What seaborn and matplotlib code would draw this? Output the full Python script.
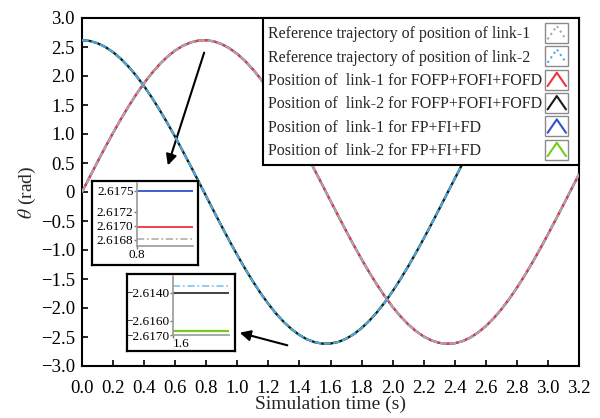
import matplotlib
matplotlib.use("Agg")
import matplotlib.pyplot as plt
import seaborn as sns
from matplotlib.lines import Line2D
from matplotlib.patches import Rectangle
from matplotlib.legend_handler import HandlerBase

# ---------------- data ----------------
t = [0.00, 0.05, 0.10, 0.15, 0.20, 0.25, 0.30, 0.35, 0.40, 0.45,
     0.50, 0.55, 0.60, 0.65, 0.70, 0.75, 0.80, 0.85, 0.90, 0.95,
     1.00, 1.05, 1.10, 1.15, 1.20, 1.25, 1.30, 1.35, 1.40, 1.45,
     1.50, 1.55, 1.60, 1.65, 1.70, 1.75, 1.80, 1.85, 1.90, 1.95,
     2.00, 2.05, 2.10, 2.15, 2.20, 2.25, 2.30, 2.35, 2.40, 2.45,
     2.50, 2.55, 2.60, 2.65, 2.70, 2.75, 2.80, 2.85, 2.90, 2.95,
     3.00, 3.05, 3.10, 3.15, 3.20]

link1 = [0.000, 0.261, 0.520, 0.774, 1.019, 1.255, 1.478, 1.686, 1.878, 2.050,
         2.203, 2.333, 2.440, 2.522, 2.579, 2.611, 2.617, 2.596, 2.549, 2.477,
         2.380, 2.259, 2.116, 1.952, 1.768, 1.567, 1.349, 1.119, 0.877, 0.626,
         0.369, 0.109, -0.153, -0.413, -0.669, -0.918, -1.158, -1.387, -1.602, -1.800,
         -1.981, -2.142, -2.281, -2.398, -2.491, -2.559, -2.601, -2.617, -2.608, -2.572,
         -2.510, -2.423, -2.313, -2.179, -2.023, -1.847, -1.652, -1.441, -1.216, -0.979,
         -0.731, -0.477, -0.218, 0.044, 0.305]

link2 = [2.617, 2.604, 2.565, 2.501, 2.411, 2.297, 2.160, 2.002, 1.824, 1.627,
         1.414, 1.187, 0.949, 0.700, 0.445, 0.185, -0.076, -0.337, -0.595, -0.846,
         -1.089, -1.321, -1.540, -1.744, -1.930, -2.097, -2.243, -2.366, -2.466, -2.542,
         -2.591, -2.615, -2.613, -2.585, -2.531, -2.451, -2.347, -2.220, -2.070, -1.900,
         -1.711, -1.505, -1.283, -1.049, -0.804, -0.552, -0.294, -0.032, 0.229, 0.488,
         0.743, 0.989, 1.226, 1.451, 1.661, 1.855, 2.030, 2.185, 2.318, 2.428,
         2.513, 2.574, 2.608, 2.617, 2.608]

# zoomed values at t = 0.8 (link-1) and t = 1.6 (link-2)
inset1_t = [0.8, 0.81]
inset1_fp = 2.61750
inset1_fofp = 2.61699
inset1_ref = 2.61682
inset2_t = [1.6, 1.61]
inset2_ref = -2.61350
inset2_fofp = -2.61400
inset2_fp = -2.61671

labels = ["Reference trajectory of position of link-1",
          "Reference trajectory of position of link-2",
          "Position of  link-1 for FOFP+FOFI+FOFD",
          "Position of  link-2 for FOFP+FOFI+FOFD",
          "Position of  link-1 for FP+FI+FD",
          "Position of  link-2 for FP+FI+FD"]

x_ticks = [0.0, 0.2, 0.4, 0.6, 0.8, 1.0, 1.2, 1.4, 1.6, 1.8, 2.0, 2.2, 2.4, 2.6, 2.8, 3.0, 3.2]
y_ticks = [3.0, 2.5, 2.0, 1.5, 1.0, 0.5, 0.0, -0.5, -1.0, -1.5, -2.0, -2.5, -3.0]
y_ticklabels = ["3.0", "2.5", "2.0", "1.5", "1.0", "0.5", "0", "\u22120.5", "\u22121.0",
                "\u22121.5", "\u22122.0", "\u22122.5", "\u22123.0"]
in1_yticks = [2.6175, 2.6172, 2.6170, 2.6168]
in1_ylabels = ["2.6175", "2.6172", "2.6170", "2.6168"]
in2_yticks = [-2.6140, -2.6160, -2.6170]
in2_ylabels = ["\u22122.6140", "\u22122.6160", "\u22122.6170"]

# ---------------- style ----------------
sns.set_style("ticks")
plt.rcParams["font.family"] = ["Liberation Serif", "DejaVu Serif"]
plt.rcParams["mathtext.fontset"] = "stix"

C_REF1 = "#a8a8a8"
C_REF2 = "#4ea6e6"
C_RED = "#f0323c"
C_BLACK = "#1a1a1a"
C_BLUE = "#3450c8"
C_GREEN = "#72cc1c"
DASH = (0, (3.0, 1.2))

W, H = 600, 418
fig = plt.figure(figsize=(W / 100, H / 100), dpi=100)


def px_axes(l, top, r, bottom, **kw):
    return fig.add_axes([l / W, 1 - bottom / H, (r - l) / W, (bottom - top) / H], **kw)


ax = px_axes(82, 18, 579, 366)

series = [
    (link1, C_BLUE, "-", 1.6, 2),
    (link2, C_GREEN, "-", 1.6, 2),
    (link1, C_RED, "-", 1.6, 3),
    (link2, C_BLACK, "-", 1.6, 3),
    (link1, C_REF1, DASH, 1.6, 4),
    (link2, C_REF2, DASH, 1.6, 4),
]
for yv, c, ls, lw, z in series:
    sns.lineplot(x=t, y=yv, ax=ax, color=c, linestyle=ls, linewidth=lw, zorder=z)

ax.set_xlim(0, 3.2)
ax.set_ylim(-3, 3)
ax.set_xticks(x_ticks)
ax.set_xticklabels([f"{v:.1f}" for v in x_ticks])
ax.set_yticks(y_ticks)
ax.set_yticklabels(y_ticklabels)
ax.tick_params(direction="in", length=4, width=1.2, labelsize=13.5, colors="black",
               top=False, right=False)
ax.tick_params(axis="x", pad=10)
ax.tick_params(axis="y", pad=5)
for s in ax.spines.values():
    s.set_linewidth(1.5)
    s.set_color("black")
ax.set_xlabel("Simulation time (s)", fontsize=14, labelpad=-1)
ax.set_ylabel(r"$\theta$ (rad)", fontsize=14, labelpad=2)


# legend with Origin-like caret handles
class CaretHandler(HandlerBase):
    def create_artists(self, legend, orig_handle, xdescent, ydescent, width, height,
                       fontsize, trans):
        bh = height
        bw = bh * 1.15
        x0 = -xdescent
        y0 = -ydescent
        rect = Rectangle((x0, y0), bw, bh, fill=False, edgecolor="#8a8a8a", lw=1.0,
                         transform=trans)
        ln = Line2D([x0 + 0.1 * bw, x0 + 0.5 * bw, x0 + 0.9 * bw],
                    [y0 + 0.18 * bh, y0 + 0.85 * bh, y0 + 0.18 * bh],
                    color=orig_handle.get_color(), linestyle=orig_handle.get_linestyle(),
                    lw=1.5, transform=trans)
        return [rect, ln]


handles = [Line2D([], [], color=C_REF1, linestyle=":"),
           Line2D([], [], color=C_REF2, linestyle=":"),
           Line2D([], [], color=C_RED, linestyle="-"),
           Line2D([], [], color=C_BLACK, linestyle="-"),
           Line2D([], [], color=C_BLUE, linestyle="-"),
           Line2D([], [], color=C_GREEN, linestyle="-")]
leg = ax.legend(handles, labels, loc="upper right", borderaxespad=0, fontsize=11.5,
                markerfirst=False, handler_map={Line2D: CaretHandler()},
                handlelength=1.8, handleheight=1.55, labelspacing=0.21,
                handletextpad=0.2, borderpad=0.31, fancybox=False, framealpha=1,
                edgecolor="black")
leg.get_frame().set_linewidth(1.5)
leg.set_zorder(10)
# left-align the labels, keep the handles in a right-hand column
for col in leg._legend_handle_box.get_children():
    for row in col.get_children():
        row.mode = "expand"
        row.width = 306

# arrows
ax.annotate("", xy=(167, H - 168), xytext=(205, H - 50), xycoords="figure pixels",
            textcoords="figure pixels",
            arrowprops=dict(arrowstyle="-|>", color="black", lw=1.5, mutation_scale=16))
ax.annotate("", xy=(237, H - 332), xytext=(290, H - 346), xycoords="figure pixels",
            textcoords="figure pixels",
            arrowprops=dict(arrowstyle="-|>", color="black", lw=1.5, mutation_scale=16))


def box_axes(l, top, r, bottom):
    b = px_axes(l, top, r, bottom, zorder=5)
    b.set_facecolor("white")
    b.set_xticks([])
    b.set_yticks([])
    for s in b.spines.values():
        s.set_linewidth(1.6)
        s.set_color("black")
    return b


def style_inner(a):
    a.set_facecolor("none")
    for k in ("top", "right"):
        a.spines[k].set_visible(False)
    for k in ("left", "bottom"):
        a.spines[k].set_color("#9a9a9a")
        a.spines[k].set_linewidth(1.2)
    a.tick_params(direction="out", length=2, width=1, labelsize=9.5, pad=0.5,
                  colors="black")
    a.tick_params(axis="both", color="#777777")
    a.tick_params(axis="x", pad=0)


# inset 1 (link-1 near t = 0.8)
box_axes(92, 181, 198, 265)
in1 = px_axes(137, 183, 193, 246, zorder=6)
style_inner(in1)
sns.lineplot(x=inset1_t, y=[inset1_fp] * 2, ax=in1, color=C_BLUE, lw=1.3)
sns.lineplot(x=inset1_t, y=[inset1_fofp] * 2, ax=in1, color=C_RED, lw=1.3)
sns.lineplot(x=inset1_t, y=[inset1_ref] * 2, ax=in1, color="#b5b5b5", lw=1.3,
             linestyle=(0, (4, 1.5, 1, 1.5)))
in1.set_xlim(0.8, 0.81)
in1.set_ylim(2.616714, 2.617614)
in1.set_xticks([0.8])
in1.set_xticklabels(["0.8"])
in1.set_yticks(in1_yticks)
in1.set_yticklabels(in1_ylabels)

# inset 2 (link-2 near t = 1.6)
box_axes(127, 274, 235, 351)
in2 = px_axes(173, 276, 229, 335, zorder=6)
style_inner(in2)
sns.lineplot(x=inset2_t, y=[inset2_ref] * 2, ax=in2, color="#8cc8f0", lw=1.3,
             linestyle=(0, (4, 1.5, 1, 1.5)))
sns.lineplot(x=inset2_t, y=[inset2_fofp] * 2, ax=in2, color="#333333", lw=1.3)
sns.lineplot(x=inset2_t, y=[inset2_fp] * 2, ax=in2, color=C_GREEN, lw=1.6)
in2.set_xlim(1.6, 1.61)
in2.set_ylim(-2.6170, -2.61279)
in2.set_xticks([1.6])
in2.set_xticklabels(["1.6"], ha="left")
in2.set_yticks(in2_yticks)
in2.set_yticklabels(in2_ylabels)

fig.savefig("out.png", dpi=100)
